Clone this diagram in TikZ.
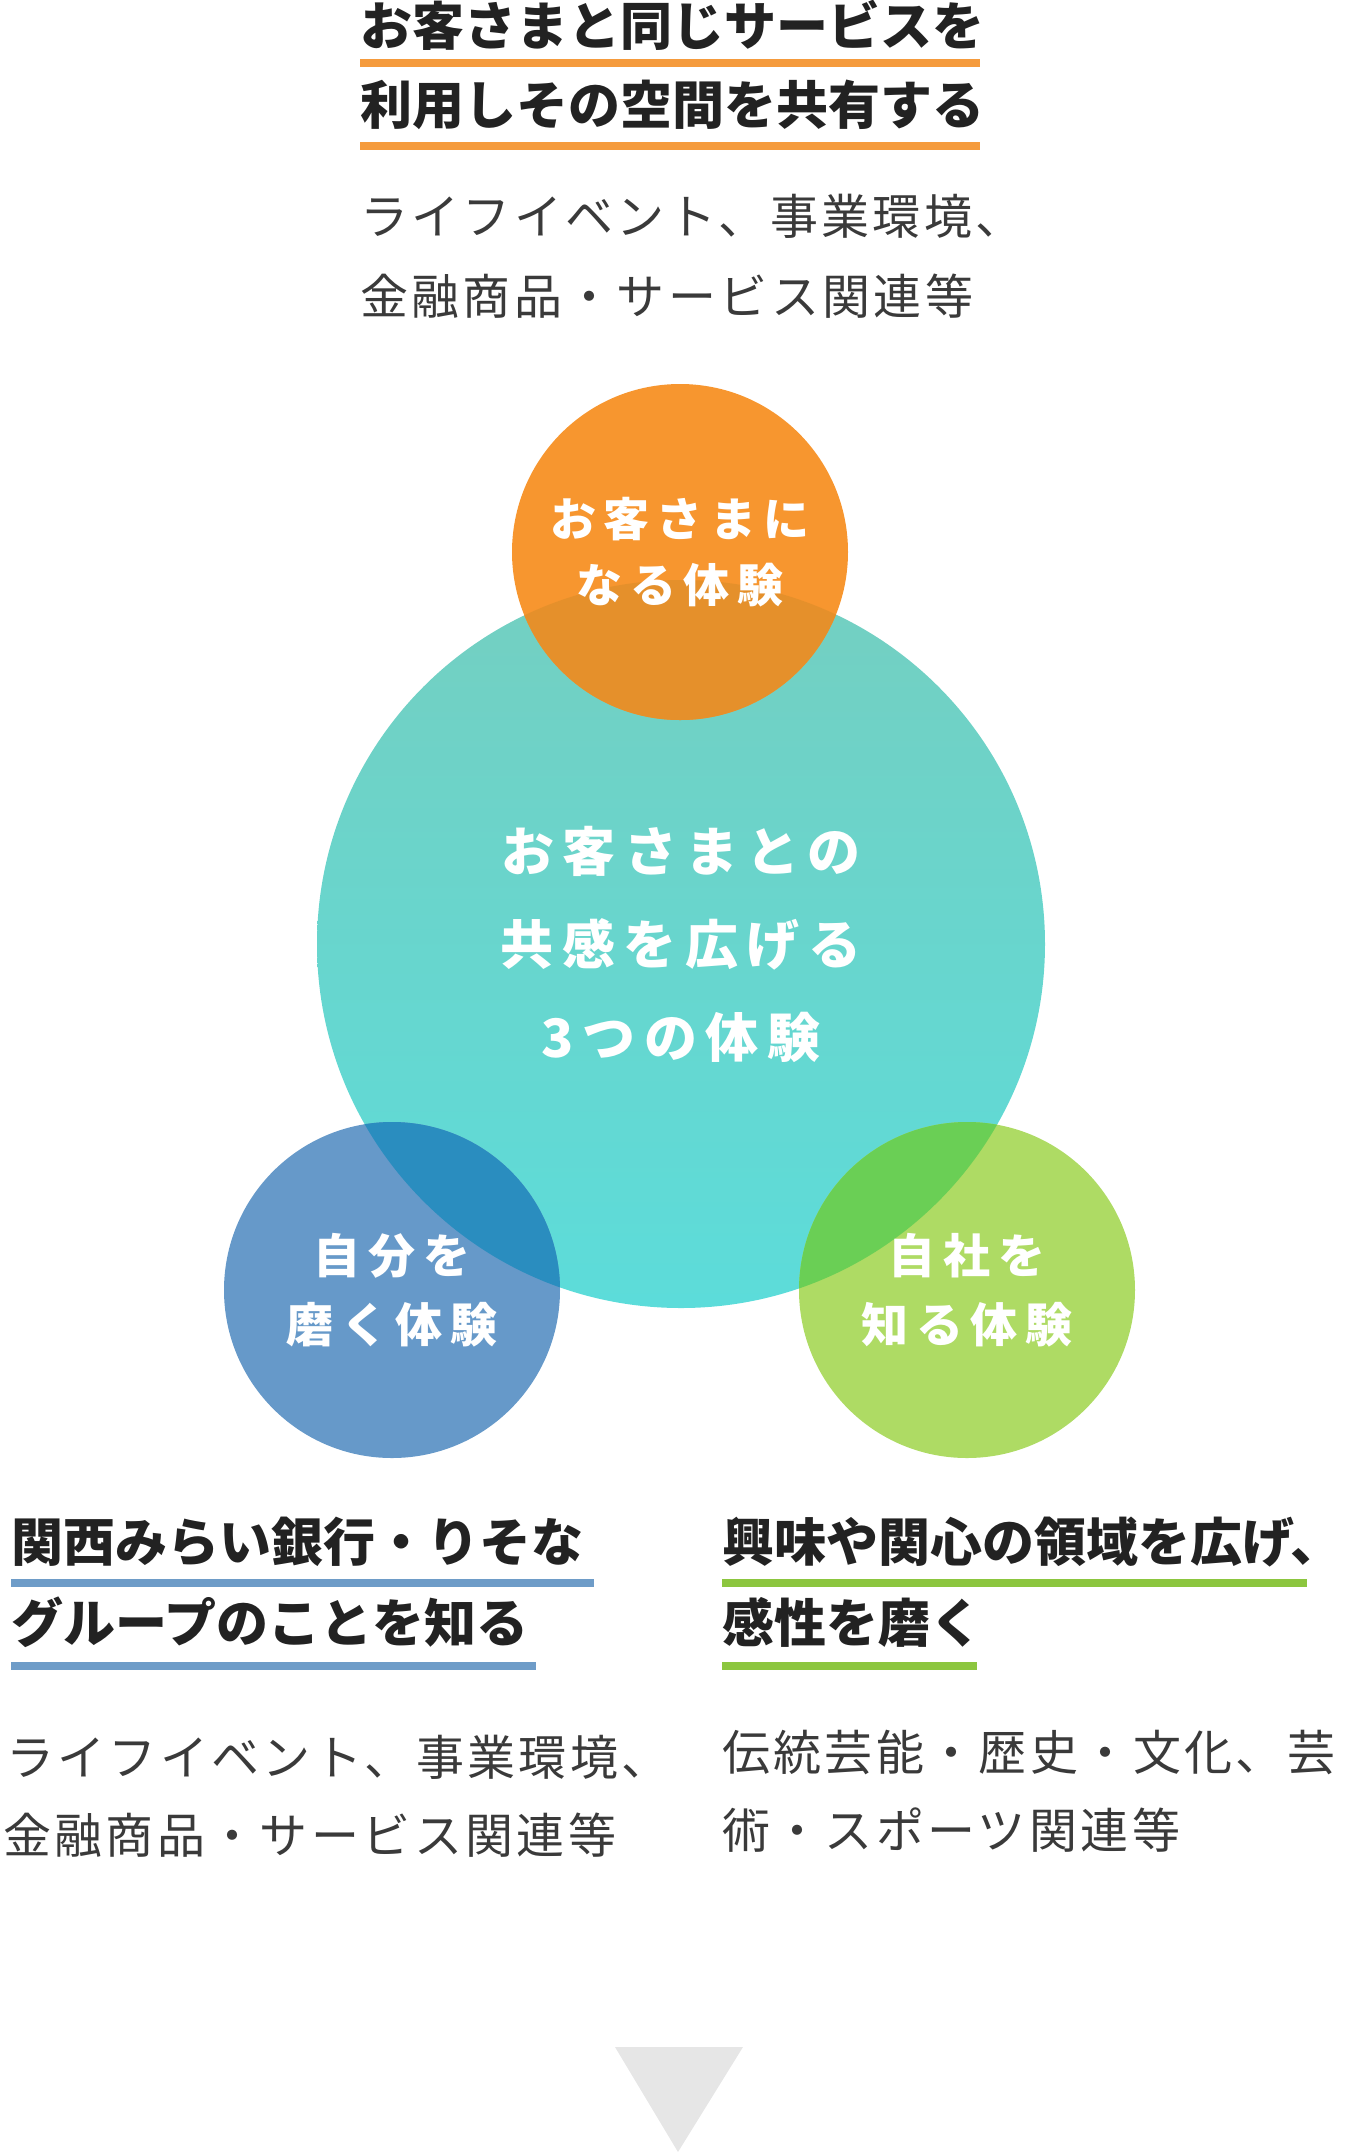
\documentclass[tikz,border=0pt]{standalone}
\usepackage{fontspec}
\setmainfont{Noto Sans CJK JP}
\newfontfamily\bodyfam{Noto Sans CJK JP}[LetterSpace=7]
\newfontfamily\ringfam{Noto Sans CJK JP}[LetterSpace=16]

\definecolor{orangeC}{HTML}{F7962F}
\definecolor{orangeOv}{HTML}{E5902B}
\definecolor{tealTop}{HTML}{74CFC1}
\definecolor{tealBot}{HTML}{5CDCDA}
\definecolor{blueC}{HTML}{6699C9}
\definecolor{blueOv}{HTML}{2A8DBF}
\definecolor{greenC}{HTML}{AEDB64}
\definecolor{greenOv}{HTML}{6ACF55}
\definecolor{lineOrange}{HTML}{F59B3D}
\definecolor{lineBlue}{HTML}{6E9CC8}
\definecolor{lineGreen}{HTML}{8CC63F}
\definecolor{headGray}{HTML}{222222}
\definecolor{bodyGray}{HTML}{3A3A3A}
\definecolor{arrowGray}{HTML}{E6E6E6}

\newcommand{\hdfont}{\fontsize{52}{60}\selectfont\bfseries}
\newcommand{\txtfont}{\bodyfam\fontsize{48}{56}\selectfont}

\begin{document}
\begin{tikzpicture}[x=1pt,y=-1pt,
  heading/.style={anchor=west,inner sep=0pt,font=\hdfont,text=headGray},
  bodytext/.style={anchor=west,inner sep=0pt,font=\txtfont,text=bodyGray},
  ringtext/.style={align=center,inner sep=0pt,text=white},
  underline/.style={line width=8pt}]
  \useasboundingbox (0,0) rectangle (1348,2156);

  % top block
  \node[heading] (topA) at (360,25) {お客さまと同じサービスを};
  \node[heading] (topB) at (360,105) {利用しその空間を共有する};
  \draw[underline,color=lineOrange] (360,63) -- (980,63);
  \draw[underline,color=lineOrange] (360,146) -- (980,146);
  \node[bodytext] (topC) at (360,216) {ライフイベント、事業環境、};
  \node[bodytext] (topD) at (360,296) {金融商品・サービス関連等};

  % circles
  \coordinate (tealc) at (681,944);
  \coordinate (orangec) at (680,552);
  \coordinate (bluec) at (392,1290);
  \coordinate (greenc) at (967,1290);
  \shade[top color=tealTop,bottom color=tealBot] (tealc) circle[radius=364pt];
  \fill[orangeC] (orangec) circle[radius=168pt];
  \fill[blueC] (bluec) circle[radius=168pt];
  \fill[greenC] (greenc) circle[radius=168pt];
  \begin{scope}
    \clip (tealc) circle[radius=364pt];
    \fill[orangeOv] (orangec) circle[radius=168pt];
    \fill[blueOv] (bluec) circle[radius=168pt];
    \fill[greenOv] (greenc) circle[radius=168pt];
  \end{scope}

  \node[ringtext,font=\ringfam\fontsize{46}{66}\selectfont\bfseries] (orangeT) at (orangec) {お客さまに\\なる体験};
  \node[ringtext,font=\ringfam\fontsize{53}{93}\selectfont\bfseries] (tealT) at (tealc) {お客さまとの\\共感を広げる\\3つの体験};
  \node[ringtext,font=\ringfam\fontsize{47}{69}\selectfont\bfseries] (blueT) at (bluec) {自分を\\磨く体験};
  \node[ringtext,font=\ringfam\fontsize{47}{69}\selectfont\bfseries] (greenT) at (greenc) {自社を\\知る体験};

  % bottom left block
  \node[heading] (leftA) at (11,1542) {関西みらい銀行・りそな};
  \node[heading] (leftB) at (11,1622) {グループのことを知る};
  \draw[underline,color=lineBlue] (11,1583) -- (594,1583);
  \draw[underline,color=lineBlue] (11,1666) -- (536,1666);
  \node[bodytext] (leftC) at (6,1757) {ライフイベント、事業環境、};
  \node[bodytext] (leftD) at (3,1835) {金融商品・サービス関連等};

  % bottom right block
  \node[heading] (rightA) at (722,1542) {興味や関心の領域を広げ、};
  \node[heading] (rightB) at (722,1622) {感性を磨く};
  \draw[underline,color=lineGreen] (722,1583) -- (1307,1583);
  \draw[underline,color=lineGreen] (722,1666) -- (977,1666);
  \node[bodytext] (rightC) at (722,1752) {伝統芸能・歴史・文化、芸};
  \node[bodytext] (rightD) at (722,1830) {術・スポーツ関連等};

  % arrow
  \fill[arrowGray] (615,2047) -- (743,2047) -- (678,2152) -- cycle;
\end{tikzpicture}
\end{document}
